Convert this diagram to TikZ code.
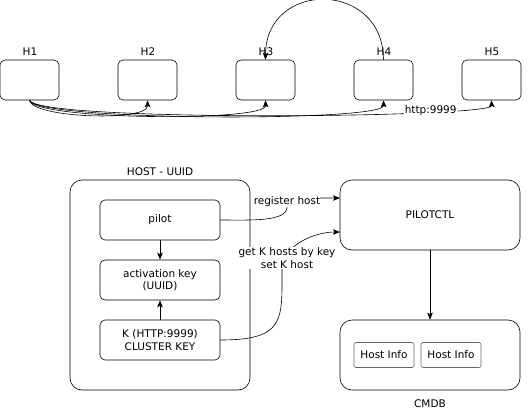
\documentclass[tikz,border=0pt]{standalone}
\usepackage{fontspec}
\setmainfont{DejaVu Sans}
\usetikzlibrary{arrows.meta, positioning, calc}

\newcommand{\diafont}{\fontsize{10.5}{12.5}\selectfont}
\tikzset{
    hostbox/.style={draw, rounded corners=5pt, minimum width=59pt, minimum height=40pt, inner sep=0pt},
    innerbox/.style={draw, rounded corners=5pt, minimum width=120pt, minimum height=40pt, align=center, inner sep=0pt, font=\diafont},
    bigbox/.style={draw, rounded corners=12pt, inner sep=0pt, font=\diafont},
    infobox/.style={draw=gray!80!black, rounded corners=2pt, minimum width=60pt, minimum height=25pt, inner sep=0pt, font=\diafont},
    lbl/.style={font=\diafont, inner sep=1pt},
    onwire/.style={font=\diafont, fill=white, inner sep=1pt, align=center}
}

\begin{document}
\begin{tikzpicture}[x=1pt, y=-1pt, >={Stealth[length=7pt, width=5.5pt, inset=1.5pt]}, line width=0.6pt]
    \useasboundingbox (0,0) rectangle (532,412);
    % the five hosts
    \node[hostbox] (h1) at (29.5, 80) {};
    \node[hostbox] (h2) at (147.5, 80) {};
    \node[hostbox] (h3) at (265.5, 80) {};
    \node[hostbox] (h4) at (383.5, 80) {};
    \node[hostbox] (h5) at (491.5, 80) {};
    \node[lbl] (h1l) at (30, 52) {H1};
    \node[lbl] (h2l) at (148, 52) {H2};
    \node[lbl] (h3l) at (266, 52) {H3};
    \node[lbl] (h4l) at (384, 52) {H4};
    \node[lbl] (h5l) at (492, 52) {H5};
    \draw[->] (h4.north) .. controls (383, -20) and (266, -20) .. (h3.north);
    \draw[->] (h1.south) .. controls (32, 118) and (148, 122) .. (h2.south);
    \draw[->] (h1.south) .. controls (34, 120) and (266, 122) .. (h3.south);
    \draw[->] (h1.south) .. controls (36, 121) and (384, 122) .. (h4.south);
    \draw[->] (h1.south) .. controls (38, 122) and (492, 118) .. node[onwire, pos=0.77] (port) {http:9999} (h5.south);
    % host internals
    \node[bigbox, minimum width=180pt, minimum height=210pt] (host) at (160, 285) {};
    \node[lbl] (hostl) at (160, 172) {HOST - UUID};
    \node[innerbox] (pilot) at (160, 220) {pilot};
    \node[innerbox] (akey) at (160, 280) {activation key\\(UUID)};
    \node[innerbox] (kkey) at (160, 340) {K (HTTP:9999)\\CLUSTER KEY};
    \draw[->] (pilot) -- (akey);
    \draw[->] (kkey) -- (akey);
    % controller and cmdb
    \node[bigbox, minimum width=180pt, minimum height=70pt] (ctl) at (430, 215) {PILOTCTL};
    \node[bigbox, minimum width=180pt, minimum height=70pt] (cmdb) at (430, 355) {};
    \node[lbl] (cmdbl) at (430, 404) {CMDB};
    \node[infobox] (info1) at (384, 355) {Host Info};
    \node[infobox] (info2) at (451, 355) {Host Info};
    \draw[->] (ctl) -- (cmdb);
    \coordinate (r1) at (340, 198);
    \coordinate (r2) at (340, 232);
    \draw[->] (pilot.east) .. controls (250, 220) and (287, 222) .. (287, 207)
        node[onwire, anchor=south, inner sep=0pt] (reg) {register host}
        .. controls (287, 198) and (300, 198) .. (r1);
    \draw[->] (kkey.east) .. controls (285, 340) and (282, 320) .. (282, 270)
        .. controls (282, 245) and (315, 232) .. (r2);
    \node[onwire] (getk) at (287, 258) {get K hosts by key\\set K host};
\end{tikzpicture}
\end{document}
